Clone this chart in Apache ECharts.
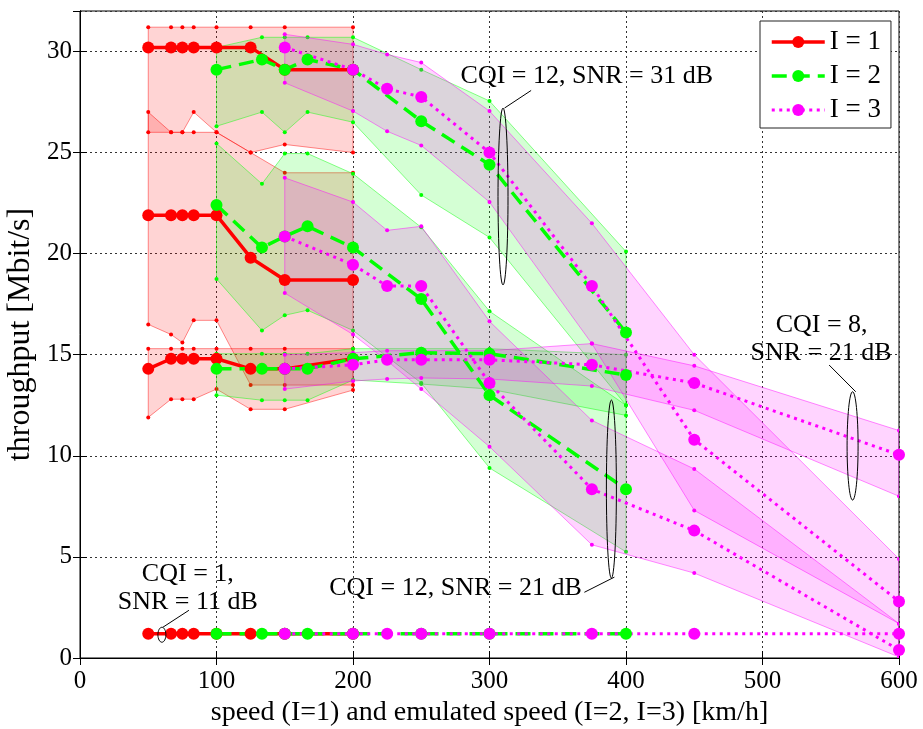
<!DOCTYPE html>
<html><head><meta charset="utf-8">
<script src="https://cdn.jsdelivr.net/npm/echarts@6/dist/echarts.min.js"></script>
<style>html,body{margin:0;padding:0;background:#fff}#c{width:923px;height:729px}</style>
</head><body><div id="c"></div>
<script>
// x positions (speed / emulated speed)
const xI1 = [50, 66.7, 75, 83.3, 100, 125, 150, 200];
const xI2 = [100, 133.3, 150, 166.7, 200, 250, 300, 400];
const xI3 = [150, 200, 225, 250, 300, 375, 450, 600];

// I = 1 : mean and band (hi/lo)
const A1 = [30.2, 30.2, 30.2, 30.2, 30.2, 30.2, 29.1, 29.1];
const A1hi = [31.2, 31.2, 31.2, 31.2, 31.2, 31.2, 31.2, 31.2];
const A1lo = [26.0, 26.0, 26.0, 27.0, 26.0, 25.0, 25.4, 25.0];
const B1 = [21.9, 21.9, 21.9, 21.9, 21.9, 19.8, 18.7, 18.7];
const B1hi = [27.0, 26.0, 26.0, 26.0, 26.0, 25.0, 24.0, 24.0];
const B1lo = [16.5, 16.0, 15.6, 16.7, 16.7, 13.5, 13.5, 13.5];
const C1 = [14.3, 14.8, 14.8, 14.8, 14.8, 14.3, 14.3, 14.8];
const C1hi = [15.3, 15.3, 15.3, 15.3, 15.3, 15.3, 15.3, 15.3];
const C1lo = [11.9, 12.8, 12.8, 12.8, 13.3, 12.3, 12.3, 13.25];
const D1 = [1.2, 1.2, 1.2, 1.2, 1.2, 1.2, 1.2, 1.2];

// I = 2
const A2 = [29.1, 29.6, 29.1, 29.6, 29.1, 26.55, 24.4, 16.1];
const A2hi = [30.2, 30.7, 30.7, 30.7, 30.7, 29.1, 27.55, 20.1];
const A2lo = [26.3, 27.0, 26.0, 27.0, 26.5, 22.9, 20.8, 12.5];
const B2 = [22.4, 20.3, 20.85, 21.35, 20.3, 17.75, 13.0, 8.35];
const B2hi = [25.45, 23.45, 24.95, 24.95, 23.95, 21.3, 17.15, 12.5];
const B2lo = [18.75, 16.2, 16.95, 17.2, 16.2, 13.6, 9.4, 5.25];
const C2 = [14.3, 14.3, 14.3, 14.3, 14.8, 15.1, 15.05, 14.0];
const C2hi = [15.05, 15.05, 15.05, 15.05, 15.3, 15.3, 15.3, 15.0];
const C2lo = [13.0, 12.75, 12.75, 12.75, 13.75, 13.55, 13.3, 12.0];
const D2 = [1.2, 1.2, 1.2, 1.2, 1.2, 1.2, 1.2, 1.2];

// I = 3
const A3 = [30.2, 29.1, 28.15, 27.75, 25.0, 18.4, 10.8, 2.8];
const A3hi = [30.85, 30.35, 29.85, 29.45, 27.05, 21.5, 15.0, 4.9];
const A3lo = [28.45, 27.05, 26.05, 25.35, 22.55, 15.55, 7.3, 1.7];
const B3 = [20.85, 19.45, 18.4, 18.4, 13.6, 8.35, 6.3, 0.4];
const B3hi = [23.75, 22.55, 21.15, 21.35, 16.65, 11.75, 9.35, 1.7];
const B3lo = [18.05, 16.0, 14.7, 13.3, 10.45, 5.6, 4.2, 0.05];
const C3 = [14.3, 14.5, 14.75, 14.75, 14.75, 14.5, 13.6, 10.05];
const C3hi = [15.0, 15.1, 15.2, 15.2, 15.2, 15.55, 14.45, 11.25];
const C3lo = [13.3, 13.7, 13.8, 13.85, 13.8, 13.45, 12.25, 8.0];
const D3 = [1.2, 1.2, 1.2, 1.2, 1.2, 1.2, 1.2, 1.2];

const xTicks = [0, 100, 200, 300, 400, 500, 600];
const yTicks = [0, 5, 10, 15, 20, 25, 30];
const legendNames = ['I = 1', 'I = 2', 'I = 3'];

// annotations (data coordinates)
const annLabels = [
  ['CQI = 12, SNR = 31 dB', 371.3, 28.76],
  ['CQI = 12, SNR = 21 dB', 275.1, 3.45],
  ['CQI = 8,', 543.3, 16.47],
  ['SNR = 21 dB', 542.9, 15.08],
  ['CQI = 1,', 79.0, 4.14],
  ['SNR = 11 dB', 79.0, 2.77]
];
const annLeaders = [
  [330.5, 28.07, 311.0, 27.2],
  [369.5, 3.25, 391.5, 4.0],
  [548.8, 14.49, 568.3, 13.17],
  [79.8, 2.36, 60.7, 1.52]
];
const annEllipses = [
  [309.9, 27.2, 18.45, 5],
  [389.3, 12.76, 3.95, 5],
  [566.0, 13.17, 7.81, 5.5],
  [60.0, 1.52, 0.78, 4]
];

const RED = '#ff0000', GREEN = '#00ff00', MAG = '#ff00ff';
const FONT = '"Liberation Serif", "Times New Roman", serif';

function rgba(hex, a) {
  const r = parseInt(hex.slice(1, 3), 16), g = parseInt(hex.slice(3, 5), 16), b = parseInt(hex.slice(5, 7), 16);
  return 'rgba(' + r + ',' + g + ',' + b + ',' + a + ')';
}

const bandDefs = [
  [xI1, A1hi, A1lo, RED], [xI1, B1hi, B1lo, RED], [xI1, C1hi, C1lo, RED],
  [xI2, A2hi, A2lo, GREEN], [xI2, B2hi, B2lo, GREEN], [xI2, C2hi, C2lo, GREEN],
  [xI3, A3hi, A3lo, MAG], [xI3, B3hi, B3lo, MAG], [xI3, C3hi, C3lo, MAG]
];

const series = [];
bandDefs.forEach(function (d, k) {
  const xs = d[0], hi = d[1], lo = d[2], col = d[3];
  series.push({
    type: 'custom', name: 'band' + k, z: 1, silent: true, clip: true,
    data: xs.map(function (x, i) { return [x, lo[i], hi[i]]; }),
    encode: { x: 0, y: [1, 2] },
    renderItem: function (params, api) {
      if (params.dataIndex !== 0) return null;
      const up = xs.map(function (x, i) { return api.coord([x, hi[i]]); });
      const dn = xs.map(function (x, i) { return api.coord([x, lo[i]]); });
      const poly = up.concat(dn.slice().reverse());
      const children = [{
        type: 'polygon', shape: { points: poly },
        style: { fill: rgba(col, 0.17), stroke: rgba(col, 0.45), lineWidth: 1 }
      }];
      up.concat(dn).forEach(function (p) {
        children.push({ type: 'circle', shape: { cx: p[0], cy: p[1], r: 2 }, style: { fill: col } });
      });
      return { type: 'group', children: children };
    }
  });
});

function lineSeries(name, xs, ys, col, width, dash) {
  return {
    type: 'line', name: name, z: 2, silent: true,
    data: xs.map(function (x, i) { return [x, ys[i]]; }),
    symbol: 'circle', symbolSize: 12, showAllSymbol: true,
    lineStyle: { color: col, width: width, type: dash },
    itemStyle: { color: col },
    emphasis: { disabled: true }
  };
}
[A1, B1, C1, D1].forEach(function (ys) { series.push(lineSeries('I = 1', xI1, ys, RED, 3.5, 'solid')); });
[A2, B2, C2, D2].forEach(function (ys) { series.push(lineSeries('I = 2', xI2, ys, GREEN, 3.5, [15, 8])); });
[A3, B3, C3, D3].forEach(function (ys) { series.push(lineSeries('I = 3', xI3, ys, MAG, 3, [3, 4.5])); });

series.push({
  type: 'custom', name: 'annotations', z: 5, silent: true, clip: false,
  data: [[0, 0]],
  renderItem: function (params, api) {
    if (params.dataIndex !== 0) return null;
    const ch = [];
    annLabels.forEach(function (a) {
      const p = api.coord([a[1], a[2]]);
      ch.push({
        type: 'text', x: p[0], y: p[1],
        style: { text: a[0], fill: '#000', font: '26px ' + FONT, align: 'center', verticalAlign: 'middle', textAlign: 'center', textVerticalAlign: 'middle' }
      });
    });
    annLeaders.forEach(function (l) {
      const p1 = api.coord([l[0], l[1]]), p2 = api.coord([l[2], l[3]]);
      ch.push({ type: 'line', shape: { x1: p1[0], y1: p1[1], x2: p2[0], y2: p2[1] }, style: { stroke: '#000', lineWidth: 1 } });
    });
    annEllipses.forEach(function (e) {
      const t = api.coord([e[0], e[1]]), b = api.coord([e[0], e[2]]);
      ch.push({ type: 'ellipse', shape: { cx: t[0], cy: (t[1] + b[1]) / 2, rx: e[3], ry: (b[1] - t[1]) / 2 }, style: { fill: 'none', stroke: '#000', lineWidth: 1 } });
    });
    return { type: 'group', children: ch };
  }
});

const axisCommon = {
  type: 'value',
  axisLine: { show: true, lineStyle: { color: '#000', width: 1 } },
  axisTick: { show: true, inside: true, length: 7, lineStyle: { color: '#000' } },
  axisLabel: { color: '#000', fontFamily: FONT, fontSize: 25 }
};

const option = {
  animation: false,
  backgroundColor: '#fff',
  grid: {
    left: 80, right: 24, top: 11, bottom: 71, containLabel: false, outerBoundsMode: 'none',
    show: true, borderColor: '#000', borderWidth: 1, backgroundColor: 'transparent'
  },
  legend: {
    data: [
      { name: legendNames[0], lineStyle: { width: 3.5 } },
      { name: legendNames[1], lineStyle: { width: 3.5 } },
      { name: legendNames[2], lineStyle: { width: 3 } }
    ],
    orient: 'vertical', left: 760, top: 21,
    itemWidth: 53, itemHeight: 15, itemGap: 6, padding: [7, 10, 4, 10],
    borderColor: '#222', borderWidth: 1, backgroundColor: '#fff', borderRadius: 0,
    selectedMode: false,
    textStyle: { fontFamily: FONT, fontSize: 27, color: '#000', lineHeight: 28 }
  },
  xAxis: [
    Object.assign({}, axisCommon, {
      min: xTicks[0], max: xTicks[xTicks.length - 1], interval: 100, position: 'bottom',
      axisLabel: Object.assign({}, axisCommon.axisLabel, { margin: 11 }),
      splitLine: { show: true, lineStyle: { color: '#333', width: 1, type: [2, 3] } },
      name: 'speed (I=1) and emulated speed (I=2, I=3) [km/h]', nameLocation: 'middle', nameGap: 40,
      nameTextStyle: { fontFamily: FONT, fontSize: 28, color: '#000' }
    }),
    Object.assign({}, axisCommon, {
      min: xTicks[0], max: xTicks[xTicks.length - 1], interval: 100, position: 'top',
      axisLabel: { show: false }, splitLine: { show: false }
    })
  ],
  yAxis: [
    Object.assign({}, axisCommon, {
      min: yTicks[0], max: 32, interval: 5, position: 'left',
      axisLabel: Object.assign({}, axisCommon.axisLabel, { margin: 8, showMaxLabel: false }),
      splitLine: { show: true, lineStyle: { color: '#333', width: 1, type: [2, 3] } },
      name: 'throughput [Mbit/s]', nameLocation: 'middle', nameGap: 35, nameRotate: 90,
      nameTextStyle: { fontFamily: FONT, fontSize: 32, color: '#000' }
    }),
    Object.assign({}, axisCommon, {
      min: yTicks[0], max: 32, interval: 5, position: 'right',
      axisLabel: { show: false }, splitLine: { show: false }
    })
  ],
  series: series
};

const chart = echarts.init(document.getElementById('c'), null, { renderer: 'canvas' });
chart.setOption(option);
</script></body></html>
